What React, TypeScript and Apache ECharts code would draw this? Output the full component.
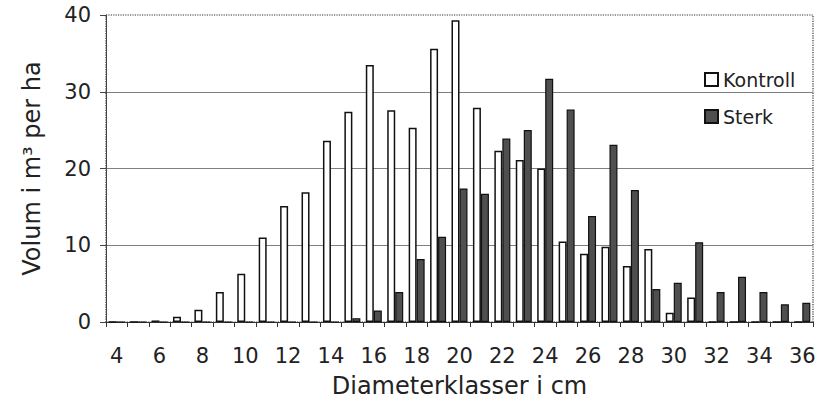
import React, { useEffect, useRef } from "react";
import * as echarts from "echarts";

const categories: string[] = [
  "4", "5", "6", "7", "8", "9", "10", "11", "12", "13", "14", "15", "16", "17", "18", "19", "20",
  "21", "22", "23", "24", "25", "26", "27", "28", "29", "30", "31", "32", "33", "34", "35", "36",
];

const kontroll: number[] = [
  0, 0, 0.2, 0.7, 1.6, 3.9, 6.3, 11.0, 15.1, 16.9, 23.6, 27.4, 33.5, 27.6, 25.3, 35.6, 39.3,
  27.9, 22.3, 21.1, 20.0, 10.5, 8.9, 9.8, 7.3, 9.5, 1.2, 3.2, 0, 0, 0, 0, 0,
];

const sterk: number[] = [
  0, 0, 0, 0, 0, 0, 0, 0, 0, 0, 0, 0.5, 1.5, 3.9, 8.2, 11.1, 17.4,
  16.7, 23.9, 25.0, 31.7, 27.7, 13.8, 23.1, 17.2, 4.3, 5.1, 10.4, 3.9, 5.9, 3.9, 2.3, 2.5,
];

const yTicks = { min: 0, max: 40, interval: 10 };
const seriesNames = ["Kontroll", "Sterk"];

const FONT = "DejaVu Sans";

export default function App() {
  const ref = useRef<HTMLDivElement>(null);

  useEffect(() => {
    if (!ref.current) return;
    const chart = echarts.init(ref.current, null, { renderer: "svg" });
    chart.setOption({
      animation: false,
      backgroundColor: "#ffffff",
      textStyle: { fontFamily: FONT },
      grid: {
        left: 106,
        right: 8,
        top: 15,
        bottom: 80,
        outerBoundsMode: "none",
        containLabel: false,
        show: true,
        borderColor: "#333",
        borderWidth: 1.2,
        borderType: "dotted",
      },
      legend: {
        orient: "vertical",
        left: 699,
        top: 65,
        itemWidth: 13,
        itemHeight: 13,
        itemGap: 18,
        icon: "rect",
        textStyle: { fontFamily: FONT, fontSize: 19, color: "#222" },
        data: seriesNames,
      },
      xAxis: {
        type: "category",
        data: categories,
        name: "Diameterklasser i cm",
        nameLocation: "middle",
        nameGap: 52,
        nameTextStyle: { fontFamily: FONT, fontSize: 24, color: "#222" },
        axisLine: { show: true, lineStyle: { color: "#333", width: 1 } },
        axisTick: { show: true, interval: 0, length: 5, lineStyle: { color: "#333" } },
        axisLabel: {
          interval: 1,
          margin: 23,
          fontFamily: FONT,
          fontSize: 21,
          color: "#222",
        },
        splitLine: { show: false },
      },
      yAxis: {
        type: "value",
        min: yTicks.min,
        max: yTicks.max,
        interval: yTicks.interval,
        name: "Volum i m³ per ha",
        nameLocation: "middle",
        nameGap: 62,
        nameTextStyle: { fontFamily: FONT, fontSize: 24, color: "#222" },
        axisLine: { show: true, lineStyle: { color: "#444", width: 1 } },
        axisTick: { show: true, length: 6, lineStyle: { color: "#444" } },
        axisLabel: { margin: 15, fontFamily: FONT, fontSize: 21, color: "#222" },
        splitLine: {
          show: true,
          lineStyle: {
            color: ["rgba(0,0,0,0)", "#808080", "#808080", "#808080", "rgba(0,0,0,0)"],
            width: 1,
          },
        },
      },
      series: [
        {
          name: seriesNames[0],
          type: "bar",
          data: kontroll,
          barWidth: 8,
          barGap: "0%",
          itemStyle: { color: "#ffffff", borderColor: "#111", borderWidth: 1.5 },
        },
        {
          name: seriesNames[1],
          type: "bar",
          data: sterk,
          barWidth: 8,
          barGap: "0%",
          itemStyle: { color: "#4f4f4f", borderColor: "#111", borderWidth: 1.2 },
        },
      ],
    });
    return () => chart.dispose();
  }, []);

  return (
    <div
      ref={ref}
      style={{ position: "fixed", left: 0, top: 0, width: 821, height: 402 }}
    />
  );
}
